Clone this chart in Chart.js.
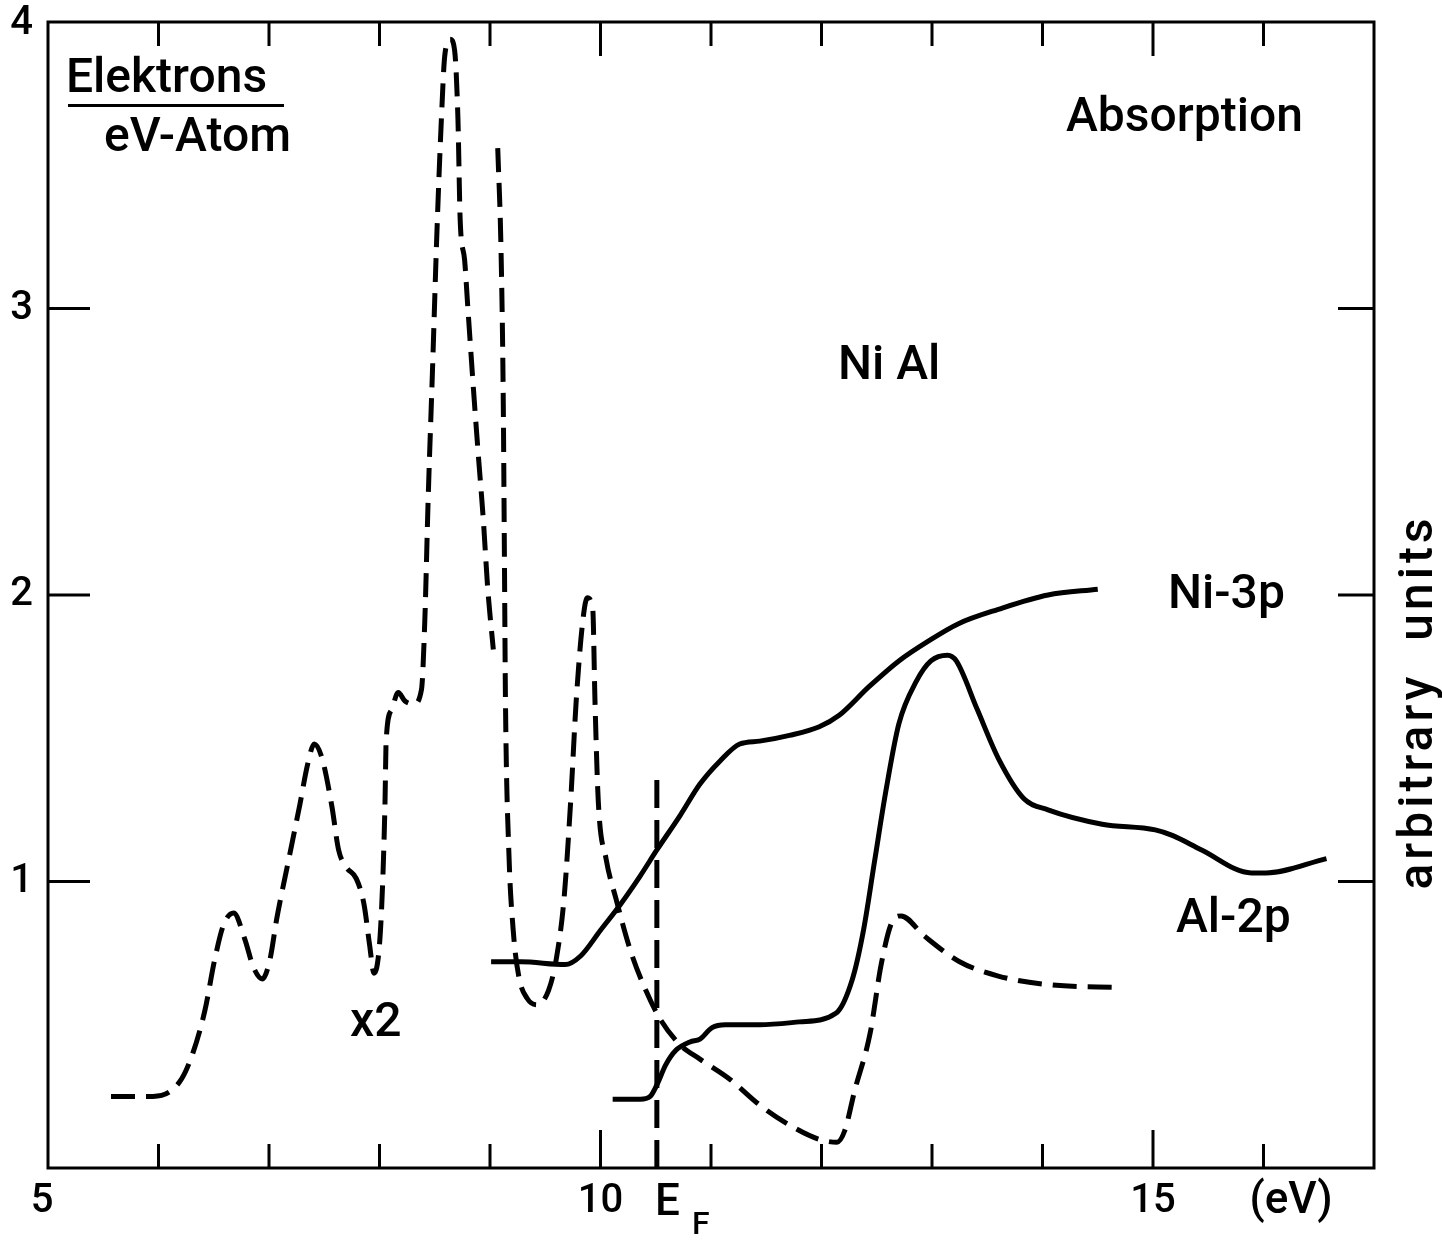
<!DOCTYPE html>
<html>
<head>
<meta charset="utf-8">
<script src="https://cdn.jsdelivr.net/npm/chart.js@4.4.1/dist/chart.umd.min.js"></script>
<style>
  html, body { margin: 0; padding: 0; background: #fff; }
  #wrap { width: 1442px; height: 1241px; }
</style>
</head>
<body>
<div id="wrap"><canvas id="myChart" width="1442" height="1241"></canvas></div>
<script>
// density of states (x2), first dashed branch
const dosLowX = [5.57, 5.95, 6.19, 6.31, 6.42, 6.51, 6.59, 6.68, 6.78, 6.86, 6.94, 7.01, 7.07, 7.18, 7.28, 7.35, 7.41, 7.48, 7.57, 7.63, 7.70, 7.79, 7.86, 7.91, 7.95, 8.00, 8.03, 8.05, 8.06, 8.11, 8.17, 8.23, 8.31, 8.38, 8.41, 8.44, 8.48, 8.52, 8.56, 8.59, 8.64, 8.68, 8.71, 8.73, 8.77, 8.80, 8.85, 8.89, 8.94, 8.98, 9.03];
const dosLowY = [0.25, 0.25, 0.30, 0.40, 0.55, 0.73, 0.85, 0.89, 0.80, 0.70, 0.66, 0.73, 0.87, 1.08, 1.27, 1.41, 1.48, 1.43, 1.26, 1.11, 1.05, 1.01, 0.92, 0.78, 0.68, 0.78, 1.01, 1.28, 1.49, 1.60, 1.66, 1.63, 1.62, 1.67, 1.91, 2.33, 2.79, 3.27, 3.66, 3.88, 3.94, 3.90, 3.66, 3.31, 3.17, 3.00, 2.72, 2.51, 2.26, 2.02, 1.81];

// second dashed branch
const dosHighX = [9.07, 9.10, 9.12, 9.13, 9.14, 9.17, 9.21, 9.26, 9.34, 9.43, 9.53, 9.60, 9.67, 9.73, 9.78, 9.84, 9.88, 9.93, 9.95, 9.98, 10.05, 10.14, 10.27, 10.41, 10.54, 10.72, 10.90, 11.17, 11.44, 11.71, 11.98, 12.14, 12.21, 12.30, 12.44, 12.54, 12.64, 12.72, 12.93, 13.25, 13.60, 14.05, 14.72];
const dosHighY = [3.56, 3.20, 2.68, 2.16, 1.63, 1.11, 0.83, 0.67, 0.59, 0.57, 0.62, 0.73, 0.94, 1.28, 1.63, 1.91, 1.99, 1.95, 1.63, 1.28, 1.08, 0.94, 0.76, 0.62, 0.52, 0.43, 0.38, 0.31, 0.22, 0.15, 0.10, 0.09, 0.13, 0.27, 0.47, 0.71, 0.86, 0.88, 0.81, 0.72, 0.67, 0.64, 0.63];

// Ni-3p absorption
const ni3pX = [9.01, 9.28, 9.68, 9.82, 10.00, 10.18, 10.36, 10.51, 10.72, 10.90, 11.08, 11.26, 11.44, 11.71, 11.98, 12.16, 12.43, 12.70, 12.97, 13.24, 13.60, 14.05, 14.50];
const ni3pY = [0.72, 0.72, 0.71, 0.74, 0.83, 0.92, 1.02, 1.11, 1.23, 1.34, 1.42, 1.48, 1.49, 1.51, 1.54, 1.58, 1.68, 1.77, 1.84, 1.90, 1.95, 2.00, 2.02];

// Al-2p absorption
const al2pX = [10.11, 10.36, 10.45, 10.51, 10.59, 10.68, 10.81, 10.90, 11.01, 11.13, 11.44, 11.80, 12.13, 12.28, 12.38, 12.48, 12.58, 12.70, 12.86, 12.99, 13.14, 13.22, 13.41, 13.60, 13.83, 14.05, 14.54, 15.02, 15.18, 15.44, 15.89, 16.02, 16.57];
const al2pY = [0.24, 0.24, 0.25, 0.29, 0.36, 0.41, 0.44, 0.45, 0.49, 0.50, 0.50, 0.51, 0.54, 0.66, 0.83, 1.07, 1.31, 1.55, 1.70, 1.77, 1.79, 1.77, 1.60, 1.43, 1.29, 1.25, 1.20, 1.18, 1.16, 1.11, 1.03, 1.03, 1.08];

// Fermi level marker
const fermiX = [10.51, 10.51];
const fermiY = [0, 1.38];

const xTicks = [6, 7, 8, 9, 10, 11, 12, 13, 14, 15, 16];
const xMajor = [10, 15];
const xTickLabels = [5, 10, 15];
const yTicks = [1, 2, 3];
const yTickLabels = [1, 2, 3, 4];

function pts(xs, ys) {
  return xs.map((x, i) => ({ x: x, y: ys[i] }));
}

const FONT = "Roboto, 'DejaVu Sans', sans-serif";

const framePlugin = {
  id: "frame",
  afterDraw(chart) {
    const ctx = chart.ctx;
    const a = chart.chartArea;
    const xs = chart.scales.x;
    const ys = chart.scales.y;
    ctx.save();
    ctx.strokeStyle = "#000";
    ctx.lineWidth = 3;
    ctx.strokeRect(a.left, a.top, a.right - a.left, a.bottom - a.top);

    ctx.beginPath();
    xTicks.forEach(v => {
      const px = xs.getPixelForValue(v);
      const big = xMajor.includes(v);
      ctx.moveTo(px, a.bottom);
      ctx.lineTo(px, a.bottom - (big ? 38 : 24));
      ctx.moveTo(px, a.top);
      ctx.lineTo(px, a.top + (big ? 34 : 24));
    });
    yTicks.forEach(v => {
      const py = ys.getPixelForValue(v);
      ctx.moveTo(a.left, py);
      ctx.lineTo(a.left + 42, py);
      ctx.moveTo(a.right, py);
      ctx.lineTo(a.right - 36, py);
    });
    ctx.stroke();

    ctx.fillStyle = "#000";
    ctx.font = "500 40px " + FONT;
    ctx.textAlign = "center";
    ctx.textBaseline = "middle";
    xTickLabels.forEach(v => {
      ctx.fillText(String(v), xs.getPixelForValue(v) - (v === 5 ? 6 : 0), a.bottom + 34);
    });
    ctx.font = "500 44px " + FONT;
    ctx.fillText("(eV)", 1291, a.bottom + 34);
    ctx.textAlign = "left";
    ctx.fillText("E", 655, a.bottom + 36);
    ctx.font = "500 32px " + FONT;
    ctx.fillText("F", 692, a.bottom + 58);

    ctx.font = "500 40px " + FONT;
    ctx.textAlign = "right";
    yTickLabels.forEach(v => {
      ctx.fillText(String(v), 33, ys.getPixelForValue(v) + (v === 4 ? 2 : 0));
    });

    ctx.font = "500 48px " + FONT;
    ctx.textAlign = "left";
    ctx.textBaseline = "alphabetic";
    ctx.fillText("Elektrons", 66, 92);
    ctx.fillText("eV-Atom", 104, 151);
    ctx.fillRect(68, 104, 216, 3);
    ctx.fillText("Absorption", 1066, 131);
    ctx.fillText("Ni Al", 838, 379);
    ctx.fillText("Ni-3p", 1168, 608);
    ctx.fillText("Al-2p", 1176, 932);
    ctx.fillText("x2", 350, 1036);

    ctx.translate(1432, 702);
    ctx.rotate(-Math.PI / 2);
    ctx.textAlign = "center";
    ctx.letterSpacing = "4px";
    ctx.fillText("arbitrary  units", 0, 0);
    ctx.restore();
  }
};

const dashed = [24, 11];

new Chart(document.getElementById("myChart"), {
  type: "line",
  data: {
    datasets: [
      { data: pts(dosLowX, dosLowY), borderDash: dashed },
      { data: pts(dosHighX, dosHighY), borderDash: dashed },
      { data: pts(ni3pX, ni3pY) },
      { data: pts(al2pX, al2pY) },
      { data: pts(fermiX, fermiY), borderDash: [28, 12], cubicInterpolationMode: "default", tension: 0 },
    ],
  },
  options: {
    responsive: false,
    animation: false,
    layout: { padding: { left: 48, top: 22, right: 68, bottom: 73 } },
    elements: {
      point: { radius: 0 },
      line: {
        borderColor: "#000",
        borderWidth: 5,
        fill: false,
        cubicInterpolationMode: "monotone",
        borderCapStyle: "butt",
      },
    },
    plugins: {
      legend: { display: false },
      tooltip: { enabled: false },
    },
    scales: {
      x: { type: "linear", min: 5, max: 17, display: false },
      y: { type: "linear", min: 0, max: 4, display: false },
    },
  },
  plugins: [framePlugin],
});
</script>
</body>
</html>
